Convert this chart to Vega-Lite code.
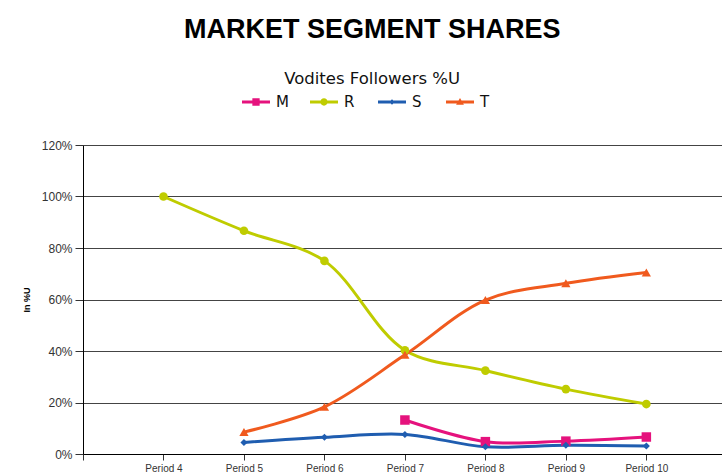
{
  "$schema": "https://vega.github.io/schema/vega-lite/v6.json",
  "width": 639,
  "height": 309,
  "autosize": {"type": "none"},
  "padding": {"left": 83, "top": 145, "right": 0, "bottom": 21},
  "background": "white",
  "title": {
    "text": "MARKET SEGMENT SHARES",
    "subtitle": "Vodites Followers %U",
    "anchor": "middle",
    "frame": "bounds",
    "font": "Liberation Sans",
    "fontSize": 27,
    "fontWeight": "bold",
    "color": "#000000",
    "subtitleFont": "DejaVu Sans",
    "subtitleFontSize": 16.5,
    "subtitleColor": "#111111",
    "subtitlePadding": 27,
    "offset": 0
  },
  "data": {
    "values": [
      {"series": "M", "period": 7, "value": 0.132},
      {"series": "M", "period": 8, "value": 0.048},
      {"series": "M", "period": 9, "value": 0.05},
      {"series": "M", "period": 10, "value": 0.066},
      {"series": "R", "period": 4, "value": 1.0},
      {"series": "R", "period": 5, "value": 0.867},
      {"series": "R", "period": 6, "value": 0.75},
      {"series": "R", "period": 7, "value": 0.403},
      {"series": "R", "period": 8, "value": 0.324},
      {"series": "R", "period": 9, "value": 0.252},
      {"series": "R", "period": 10, "value": 0.194},
      {"series": "S", "period": 5, "value": 0.045},
      {"series": "S", "period": 6, "value": 0.065},
      {"series": "S", "period": 7, "value": 0.076},
      {"series": "S", "period": 8, "value": 0.028},
      {"series": "S", "period": 9, "value": 0.034},
      {"series": "S", "period": 10, "value": 0.031},
      {"series": "T", "period": 5, "value": 0.085},
      {"series": "T", "period": 6, "value": 0.183},
      {"series": "T", "period": 7, "value": 0.385},
      {"series": "T", "period": 8, "value": 0.598},
      {"series": "T", "period": 9, "value": 0.663},
      {"series": "T", "period": 10, "value": 0.705}
    ]
  },
  "encoding": {
    "x": {
      "field": "period",
      "type": "quantitative",
      "scale": {"domain": [3, 10.94], "nice": false, "zero": false},
      "axis": {
        "values": [3, 4, 5, 6, 7, 8, 9, 10],
        "labelExpr": "datum.value == 3 ? '' : 'Period ' + datum.value",
        "grid": false,
        "title": null,
        "tickSize": 6,
        "tickColor": "#333333",
        "domainColor": "#000000",
        "labelFont": "Liberation Sans",
        "labelFontSize": 10,
        "labelColor": "#333333",
        "labelPadding": 3
      }
    },
    "y": {
      "field": "value",
      "type": "quantitative",
      "scale": {"domain": [0, 1.2], "nice": false},
      "axis": {
        "values": [0, 0.2, 0.4, 0.6, 0.8, 1.0, 1.2],
        "format": ".0%",
        "grid": true,
        "gridColor": "#444444",
        "gridOpacity": 1,
        "domainColor": "#000000",
        "tickColor": "#333333",
        "tickSize": 8,
        "labelPadding": 3,
        "labelFont": "Liberation Sans",
        "labelFontSize": 12,
        "labelColor": "#333333",
        "title": "In %U",
        "titleFont": "Liberation Sans",
        "titleFontSize": 9,
        "titleFontWeight": "bold",
        "titleColor": "#000000",
        "titlePadding": 10
      }
    },
    "color": {
      "field": "series",
      "type": "nominal",
      "scale": {"domain": ["M", "R", "S", "T"], "range": ["#E5127D", "#BFCC00", "#1F5DB0", "#F05A1E"]},
      "legend": {
        "orient": "none",
        "legendX": 159,
        "legendY": -57,
        "direction": "horizontal",
        "columns": 4,
        "title": null,
        "padding": 0,
        "symbolSize": 784,
        "gridAlign": "all",
        "columnPadding": 21,
        "labelFont": "DejaVu Sans",
        "labelFontSize": 15,
        "labelOffset": 6,
        "labelColor": "#111111",
        "encode": {
          "symbols": {
            "update": {
              "shape": {"signal": "datum.value === 'M' ? 'M-1,-0.1H1V0.1H-1ZM-0.26,-0.26H0.26V0.26H-0.26Z' : datum.value === 'R' ? 'M-1,-0.1H1V0.1H-1ZM0.26,0A0.26,0.26,0,1,1,-0.26,0A0.26,0.26,0,1,1,0.26,0Z' : datum.value === 'S' ? 'M-1,-0.1H1V0.1H-1ZM0,-0.2L0.2,0L0,0.2L-0.2,0Z' : 'M-1,-0.1H1V0.1H-1ZM0,-0.28L0.28,0.2L-0.28,0.2Z'"},
              "size": {"value": 784},
              "fill": {"scale": "color", "field": "value"},
              "stroke": {"value": "transparent"},
              "strokeWidth": {"value": 0},
              "fillOpacity": {"value": 1},
              "opacity": {"value": 1}
            }
          }
        }
      }
    }
  },
  "layer": [
    {
      "mark": {"type": "line", "interpolate": "catmull-rom", "strokeWidth": 3}
    },
    {
      "transform": [{"filter": "datum.series === 'M'"}],
      "mark": {"type": "point", "shape": "square", "size": 90, "filled": true, "opacity": 1}
    },
    {
      "transform": [{"filter": "datum.series === 'R'"}],
      "mark": {"type": "point", "shape": "circle", "size": 75, "filled": true, "opacity": 1}
    },
    {
      "transform": [{"filter": "datum.series === 'S'"}],
      "mark": {"type": "point", "shape": "diamond", "size": 50, "filled": true, "opacity": 1}
    },
    {
      "transform": [{"filter": "datum.series === 'T'"}],
      "mark": {"type": "point", "shape": "triangle-up", "size": 85, "filled": true, "opacity": 1}
    }
  ],
  "config": {
    "view": {"stroke": null}
  }
}
